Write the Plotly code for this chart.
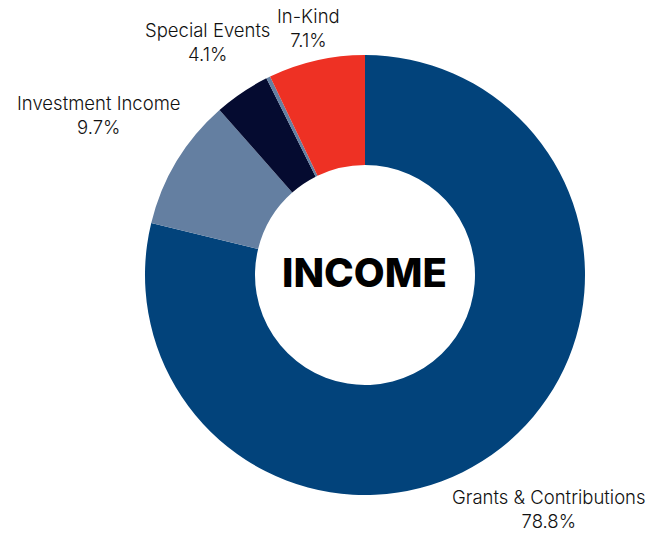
import math
import plotly.graph_objects as go

labels = ["Grants & Contributions", "Investment Income", "Special Events", "Other", "In-Kind"]
values = [78.8, 9.7, 4.1, 0.3, 7.1]
pct_labels = ["78.8%", "9.7%", "4.1%", "", "7.1%"]
colors = ["#02437B", "#647FA1", "#050B30", "#647FA1", "#EE3124"]

# layout / style constants (pixels)
W, H = 664, 535
CX, CY, R = 365, 275, 220
label_radius = [1.355, 1.41, 1.28, None, 1.152]  # multiples of outer radius

fig = go.Figure(go.Pie(
    labels=labels, values=values, textinfo="none",
    hole=0.5, sort=False, direction="clockwise", rotation=0,
    marker=dict(colors=colors, line=dict(width=0)),
    domain=dict(x=[(CX - R) / W, (CX + R) / W], y=[(H - CY - R) / H, (H - CY + R) / H]),
    showlegend=False, hoverinfo="label+percent",
))

total = sum(values)
cum = 0.0
for lab, v, p, lr in zip(labels, values, pct_labels, label_radius):
    mid = (cum + v / 2) / total * 2 * math.pi
    cum += v
    if lr is None:
        continue
    px = CX + lr * R * math.sin(mid)
    py = CY - lr * R * math.cos(mid)
    fig.add_annotation(text=f"{lab}<br>{p}", x=px / W, y=1 - py / H, xref="paper", yref="paper",
                       xanchor="center", yanchor="middle", showarrow=False, align="center",
                       font=dict(family="Inter", size=18.5, color="#111111", weight=300))

fig.add_annotation(text="INCOME", x=CX / W, y=1 - 272 / H, xref="paper", yref="paper",
                   xanchor="center", yanchor="middle", showarrow=False,
                   font=dict(family="Inter", size=40, color="#000000", weight=800))
fig.update_layout(width=W, height=H, margin=dict(l=0, r=0, t=0, b=0),
                  paper_bgcolor="white", plot_bgcolor="white")
fig.write_html("out.html")
